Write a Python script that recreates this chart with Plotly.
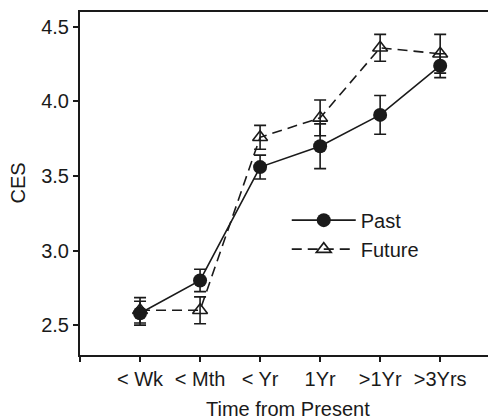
import plotly.graph_objects as go

categories = ["< Wk", "< Mth", "< Yr", "1Yr", ">1Yr", ">3Yrs"]
past_values = [2.58, 2.80, 3.56, 3.70, 3.91, 4.24]
past_errors = [0.08, 0.075, 0.08, 0.15, 0.13, 0.08]
future_values = [2.60, 2.60, 3.76, 3.89, 4.36, 4.32]
future_errors = [0.085, 0.09, 0.08, 0.12, 0.09, 0.13]
y_ticks = [2.5, 3.0, 3.5, 4.0, 4.5]

x_pos = list(range(len(categories)))
FONT = "Liberation Sans, Arial, sans-serif"
INK = "#1a1a1a"

fig = go.Figure()
fig.add_trace(go.Scatter(
    x=x_pos, y=past_values, name="Past", mode="lines+markers",
    line=dict(color=INK, width=1.6),
    marker=dict(symbol="circle", size=14, color=INK),
    error_y=dict(type="data", array=past_errors, visible=True,
                 color=INK, thickness=1.6, width=6),
))
fig.add_trace(go.Scatter(
    x=x_pos, y=future_values, name="Future", mode="lines+markers",
    line=dict(color=INK, width=1.6, dash="10px,6px"),
    marker=dict(symbol="triangle-up-open", size=13, color=INK,
                line=dict(width=1.6, color=INK)),
    error_y=dict(type="data", array=future_errors, visible=True,
                 color=INK, thickness=1.6, width=6),
))

# page body has an 8px default margin, so the figure is sized to fit inside
fig.update_layout(
    width=488, height=412,
    margin=dict(l=72, r=0, t=4, b=65),
    paper_bgcolor="white", plot_bgcolor="white",
    font=dict(family=FONT, size=20, color=INK),
    showlegend=True,
    legend=dict(x=0.497, y=0.45, xanchor="left", yanchor="top",
                bgcolor="rgba(0,0,0,0)", font=dict(size=20),
                itemwidth=64, tracegroupgap=0),
    annotations=[
        dict(text="Time from Present", xref="paper", yref="paper",
             x=0.5, y=0, yshift=-54, xanchor="center", yanchor="middle",
             showarrow=False, font=dict(size=20)),
        dict(text="CES", xref="paper", yref="paper", textangle=-90,
             x=0, y=0.5, xshift=-63, xanchor="center", yanchor="middle",
             showarrow=False, font=dict(size=20)),
    ],
)
fig.update_xaxes(
    range=[-1, 5.93], tickmode="array",
    tickvals=[-1] + x_pos, ticktext=[""] + categories,
    showline=True, linecolor=INK, linewidth=2, mirror=True,
    ticks="outside", ticklen=5, tickwidth=2, tickcolor=INK,
    showgrid=False, zeroline=False, automargin=False,
)
fig.update_yaxes(
    range=[2.3, 4.6], tickmode="array", tickvals=y_ticks,
    ticktext=[f"{v:.1f}" for v in y_ticks],
    showline=True, linecolor=INK, linewidth=2,
    ticks="outside", ticklen=5, tickwidth=2, tickcolor=INK,
    showgrid=False, zeroline=False, automargin=False,
)

fig.write_html("out.html")
